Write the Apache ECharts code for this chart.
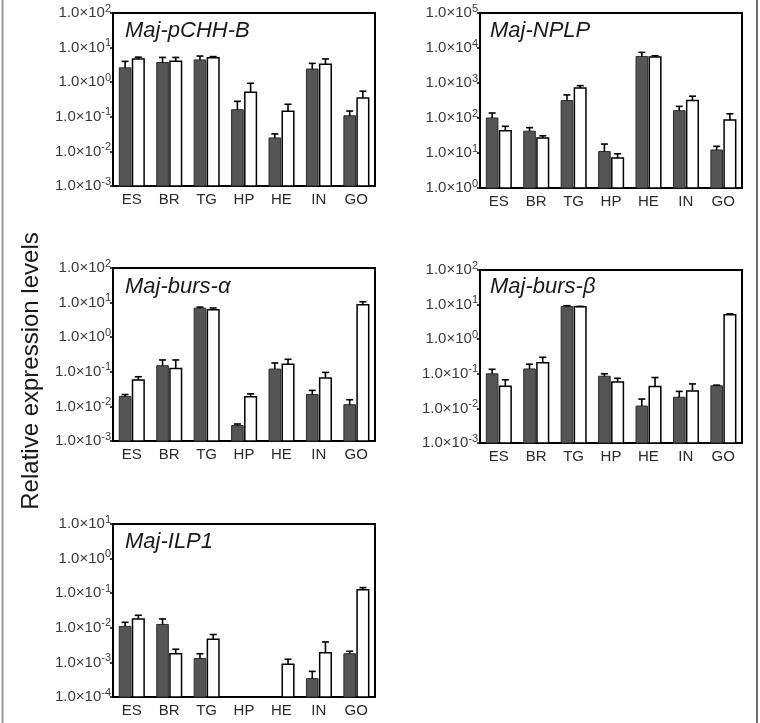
<!DOCTYPE html>
<html>
<head>
<meta charset="utf-8">
<script src="https://cdn.jsdelivr.net/npm/echarts@6/dist/echarts.min.js"></script>
<style>
  html, body { margin: 0; padding: 0; background: #fff; }
  #chart { width: 760px; height: 723px; }
</style>
</head>
<body>
<div id="chart"></div>
<script>
// tissues
const categories = ['ES', 'BR', 'TG', 'HP', 'HE', 'IN', 'GO'];

// Maj-pCHH-B  (mean, mean+SD)
const pchhDark = [2.6, 3.7, 4.4, 0.16, 0.0245, 2.4, 0.107];
const pchhDarkUp = [4.0, 5.2, 5.7, 0.28, 0.032, 3.5, 0.147];
const pchhWhite = [4.7, 4.0, 5.1, 0.51, 0.144, 3.3, 0.35];
const pchhWhiteUp = [5.3, 5.2, 5.5, 0.93, 0.23, 4.7, 0.55];

// Maj-NPLP
const nplpDark = [100, 42, 315, 11, 5750, 162, 12.2];
const nplpDarkUp = [139, 53, 457, 18, 7500, 215, 15.5];
const nplpWhite = [43, 27, 720, 7.2, 5500, 315, 88];
const nplpWhiteUp = [58, 31, 840, 9.5, 6000, 420, 132];

// Maj-burs-alpha
const alphaDark = [0.0194, 0.15, 6.9, 0.0028, 0.12, 0.022, 0.0112];
const alphaDarkUp = [0.022, 0.22, 7.4, 0.0031, 0.18, 0.029, 0.0156];
const alphaWhite = [0.058, 0.125, 6.2, 0.019, 0.166, 0.066, 8.6];
const alphaWhiteUp = [0.072, 0.22, 7.0, 0.023, 0.23, 0.096, 10.6];

// Maj-burs-beta
const betaDark = [0.1, 0.138, 8.9, 0.085, 0.0117, 0.021, 0.045];
const betaDarkUp = [0.135, 0.19, 9.3, 0.1, 0.0186, 0.031, 0.047];
const betaWhite = [0.044, 0.21, 8.6, 0.058, 0.043, 0.032, 5.1];
const betaWhiteUp = [0.067, 0.30, 8.9, 0.074, 0.078, 0.051, 5.4];

// Maj-ILP1 (null = not detected)
const ilpDark = [0.011, 0.0125, 0.0013, null, null, 0.00034, 0.00178];
const ilpDarkUp = [0.0144, 0.018, 0.00178, null, null, 0.00055, 0.0021];
const ilpWhite = [0.018, 0.00178, 0.0047, null, 0.00089, 0.0019, 0.125];
const ilpWhiteUp = [0.023, 0.0024, 0.0064, null, 0.00123, 0.0039, 0.145];

const panels = [
  { name: 'Maj-pCHH-B', min: 1e-3, max: 1e2, dark: pchhDark, darkUp: pchhDarkUp, white: pchhWhite, whiteUp: pchhWhiteUp,
    grid: { left: 113, top: 13, width: 262, height: 173 }, title: [125, 20] },
  { name: 'Maj-NPLP', min: 1, max: 1e5, dark: nplpDark, darkUp: nplpDarkUp, white: nplpWhite, whiteUp: nplpWhiteUp,
    grid: { left: 480, top: 13, width: 262, height: 175 }, title: [490, 20] },
  { name: 'Maj-burs-α', min: 1e-3, max: 1e2, dark: alphaDark, darkUp: alphaDarkUp, white: alphaWhite, whiteUp: alphaWhiteUp,
    grid: { left: 113, top: 268, width: 262, height: 173 }, title: [125, 276] },
  { name: 'Maj-burs-β', min: 1e-3, max: 1e2, dark: betaDark, darkUp: betaDarkUp, white: betaWhite, whiteUp: betaWhiteUp,
    grid: { left: 480, top: 270, width: 262, height: 173 }, title: [490, 276] },
  { name: 'Maj-ILP1', min: 1e-4, max: 1e1, dark: ilpDark, darkUp: ilpDarkUp, white: ilpWhite, whiteUp: ilpWhiteUp,
    grid: { left: 113, top: 524, width: 262, height: 173 }, title: [125, 531] }
];

const font = 'Liberation Sans, Arial, Helvetica, sans-serif';

// bar + error bar drawn from the axis scales
function makeRender(side, minVal, fill, stroke, lw) {
  return function (params, api) {
    const v = api.value(1);
    if (isNaN(v) || v <= 0) return null;
    const band = api.size([1, 0])[0];
    const w = band * 0.31;
    const c = api.coord([api.value(0), v]);
    const up = api.coord([api.value(0), api.value(2)]);
    const base = api.coord([api.value(0), minVal]);
    const cx = c[0] + side * (w / 2 + 0.8);
    const children = [{
      type: 'rect',
      shape: { x: cx - w / 2, y: c[1], width: w, height: base[1] - c[1] },
      style: { fill: fill, stroke: stroke, lineWidth: lw }
    }];
    if (!isNaN(up[1]) && up[1] < c[1] - 0.5) {
      children.push({
        type: 'line',
        shape: { x1: cx, y1: c[1], x2: cx, y2: up[1] },
        style: { stroke: '#000', lineWidth: 1.6 }
      });
      children.push({
        type: 'line',
        shape: { x1: cx - 3.5, y1: up[1], x2: cx + 3.5, y2: up[1] },
        style: { stroke: '#000', lineWidth: 1.6 }
      });
    }
    return { type: 'group', children: children };
  };
}

function toData(vals, ups) {
  return vals.map((v, i) => [i, v == null ? '-' : v, ups[i] == null ? '-' : ups[i]]);
}

const grids = [], xAxes = [], yAxes = [], series = [], titles = [];
panels.forEach((p, k) => {
  grids.push(Object.assign({ show: true, borderColor: '#000', borderWidth: 2, backgroundColor: 'transparent' }, p.grid));
  xAxes.push({
    type: 'category', gridIndex: k, data: categories,
    axisLine: { lineStyle: { color: '#000', width: 2 } },
    axisTick: { show: false },
    axisLabel: { fontSize: 15, color: '#2a2a2a', margin: 6, fontFamily: font }
  });
  yAxes.push({
    type: 'log', logBase: 10, gridIndex: k, min: p.min, max: p.max, splitNumber: 5,
    axisLine: { show: true, lineStyle: { color: '#000', width: 2 } },
    axisTick: { show: true, length: 3, lineStyle: { color: '#000', width: 1.5 } },
    splitLine: { show: false },
    axisLabel: {
      margin: 2,
      formatter: v => '{a|1.0×10}{e|' + Math.round(Math.log10(v)) + '}',
      rich: {
        a: { fontSize: 15, lineHeight: 20, color: '#3a3a3a', fontFamily: font },
        e: { fontSize: 11, lineHeight: 11, verticalAlign: 'top', color: '#3a3a3a', fontFamily: font }
      }
    }
  });
  series.push({
    type: 'custom', xAxisIndex: k, yAxisIndex: k,
    renderItem: makeRender(-1, p.min, '#555', '#2b2b2b', 1),
    encode: { x: 0, y: [1, 2] },
    data: toData(p.dark, p.darkUp)
  });
  series.push({
    type: 'custom', xAxisIndex: k, yAxisIndex: k,
    renderItem: makeRender(1, p.min, '#fff', '#000', 1.5),
    encode: { x: 0, y: [1, 2] },
    data: toData(p.white, p.whiteUp)
  });
  titles.push({
    text: p.name, left: p.title[0], top: p.title[1], padding: 0,
    textStyle: { fontStyle: 'italic', fontWeight: 'normal', fontSize: 22, color: '#1a1a1a', fontFamily: font }
  });
});

const chart = echarts.init(document.getElementById('chart'));
chart.setOption({
  animation: false,
  backgroundColor: '#fff',
  title: titles,
  grid: grids,
  xAxis: xAxes,
  yAxis: yAxes,
  series: series,
  graphic: [
    {
      type: 'text', x: 31, y: 371, rotation: Math.PI / 2,
      style: { text: 'Relative expression levels', fontSize: 24, fill: '#1a1a1a', fontFamily: font, align: 'center', verticalAlign: 'middle' }
    },
    { type: 'line', shape: { x1: 2.5, y1: 0, x2: 2.5, y2: 723 }, style: { stroke: '#9a9a9a', lineWidth: 2 } },
    { type: 'line', shape: { x1: 757, y1: 0, x2: 757, y2: 723 }, style: { stroke: '#707070', lineWidth: 2 } }
  ]
});
</script>
</body>
</html>
